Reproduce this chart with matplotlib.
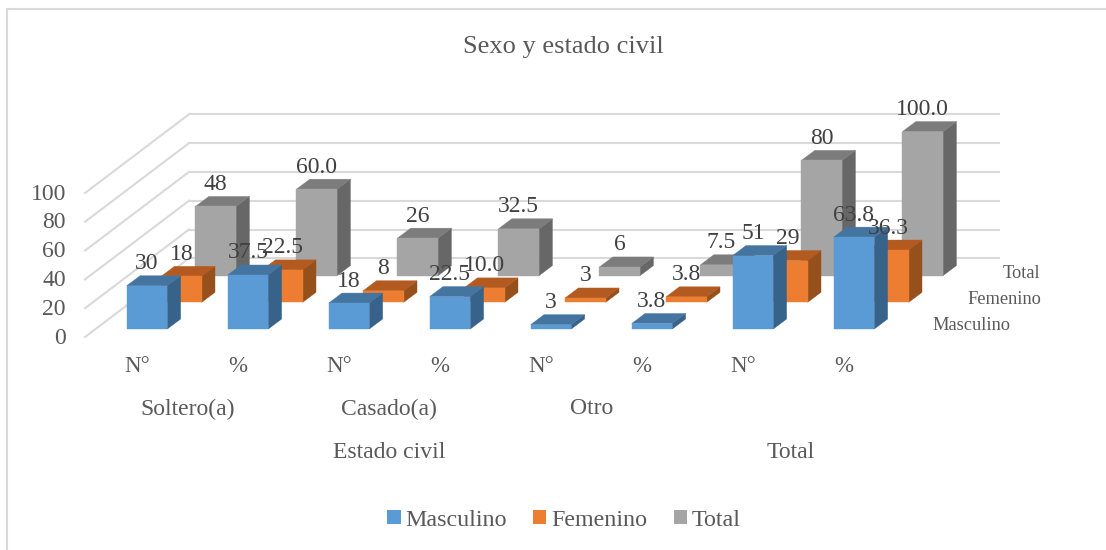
import matplotlib
matplotlib.use("Agg")
import matplotlib.pyplot as plt
from matplotlib.patches import Polygon, Patch

categories = ["N°", "%", "N°", "%", "N°", "%", "N°", "%"]
groups = ["Soltero(a)", "Casado(a)", "Otro"]
top_groups = ["Estado civil", "Total"]
series_names = ["Masculino", "Femenino", "Total"]
masculino = [30, 37.5, 18, 22.5, 3, 3.8, 51, 63.8]
femenino = [18, 22.5, 8, 10.0, 3, 3.8, 29, 36.3]
total = [48, 60.0, 26, 32.5, 6, 7.5, 80, 100.0]
labels_masculino = ["30", "37.5", "18", "22.5", "3", "3.8", "51", "63.8"]
labels_femenino = ["18", "22.5", "8", "10.0", "3", "3.8", "29", "36.3"]
labels_total = ["48", "60.0", "26", "32.5", "6", "7.5", "80", "100.0"]
y_ticks = [0, 20, 40, 60, 80, 100]

WIDTH, HEIGHT = 1106, 550
PX_X = 101.0   # pixels per category
PX_Y = 1.44    # pixels per value unit
X0, Y0 = 147.0, 329.0  # pixel of category 0 / value 0, front row

# colours: front, top, side
colors = [("#5B9BD5", "#4475A0", "#37628A"),
          ("#ED7D31", "#B25A1F", "#95501C"),
          ("#A5A5A5", "#7C7C7C", "#676767")]
GRID = "#D9D9D9"
TEXT = "#404040"
TEXT2 = "#595959"

plt.rcParams["font.family"] = ["Liberation Serif", "DejaVu Serif"]

fig = plt.figure(figsize=(WIDTH / 100, HEIGHT / 100), dpi=100)
ax = fig.add_axes([0, 0, 1, 1])
ax.set_xlim(-X0 / PX_X, (WIDTH - X0) / PX_X)
ax.set_ylim((Y0 - HEIGHT) / PX_Y, Y0 / PX_Y)
ax.axis("off")


def px(x, y):
    return (x - X0) / PX_X, (Y0 - y) / PX_Y


# bar geometry in data units
half_w = 20.3 / PX_X
depth_x, depth_y = 13.3 / PX_X, 10.0 / PX_Y
row_x, row_y = 34.4 / PX_X, 26.7 / PX_Y


def draw_bar(i, row, value, cols):
    left = i - half_w + row * row_x
    right = i + half_w + row * row_x
    base = row * row_y
    top = base + value
    front = [(left, base), (right, base), (right, top), (left, top)]
    cap = [(left, top), (right, top), (right + depth_x, top + depth_y), (left + depth_x, top + depth_y)]
    side = [(right, base), (right + depth_x, base + depth_y), (right + depth_x, top + depth_y), (right, top)]
    z = 5 - row + i * 0.01
    ax.add_patch(Polygon(side, closed=True, fc=cols[2], ec=cols[2], lw=0.3, zorder=z))
    ax.add_patch(Polygon(cap, closed=True, fc=cols[1], ec=cols[1], lw=0.3, zorder=z))
    ax.add_patch(Polygon(front, closed=True, fc=cols[0], ec=cols[0], lw=0.3, zorder=z))
    return (left + right) / 2, top


# walls
wall_front = px(85, 337)
wall_back = px(189, 258.3)
wall_right = px(999, 258.3)[0]
for v in y_ticks:
    ax.plot([wall_front[0], wall_back[0]], [wall_front[1] + v, wall_back[1] + v], color=GRID, lw=1.5, zorder=1)
    ax.plot([wall_back[0], wall_right], [wall_back[1] + v, wall_back[1] + v], color=GRID, lw=1.5, zorder=1)
    ax.text(px(66, 0)[0], wall_front[1] + v - 0.7, str(v), ha="right", va="center", fontsize=17, color=TEXT2)

# bars, back row first
rows = [(2, total, labels_total), (1, femenino, labels_femenino), (0, masculino, labels_masculino)]
for row, values, texts in rows:
    for i, value in enumerate(values):
        cx, top = draw_bar(i, row, value, colors[row])
        ax.text(cx, top + 22 / PX_Y, texts[i], ha="center", va="center", fontsize=17, color=TEXT, zorder=10)

# category labels
for i, name in enumerate(categories):
    ax.text(i - 10 / PX_X, px(0, 367)[1], name, ha="center", va="center", fontsize=16.5, color=TEXT2)
for i, name in enumerate(groups):
    ax.text(2 * i + 0.4, px(0, 409)[1], name, ha="center", va="center", fontsize=17, color=TEXT2)
ax.text(px(389, 0)[0], px(0, 452)[1], top_groups[0], ha="center", va="center", fontsize=17, color=TEXT2)
ax.text(px(791, 0)[0], px(0, 452)[1], top_groups[1], ha="center", va="center", fontsize=17, color=TEXT2)

# depth axis labels
for (x, y), name in zip([(1010, 326), (1041, 300), (1040, 273)], series_names):
    ax.text(px(x, 0)[0], px(0, y)[1], name, ha="right", va="center", fontsize=13.2, color=TEXT2)

# title
ax.text(px(563, 0)[0], px(0, 47)[1], "Sexo y estado civil", ha="center", va="center", fontsize=19, color=TEXT2)

# legend
handles = [Patch(fc=c[0], ec="none") for c in colors]
fig.legend(handles, series_names, loc="center", bbox_to_anchor=(564 / WIDTH, 1 - 520 / HEIGHT), ncol=3, frameon=False,
           fontsize=17.3, labelcolor=TEXT2, handlelength=0.55, handleheight=0.55, handletextpad=0.2, columnspacing=1.1)

# chart border
ax.plot(*zip(px(7, HEIGHT), px(7, 9), px(WIDTH, 9)), color=GRID, lw=1.5, zorder=1)

fig.savefig("out.png", dpi=100)
